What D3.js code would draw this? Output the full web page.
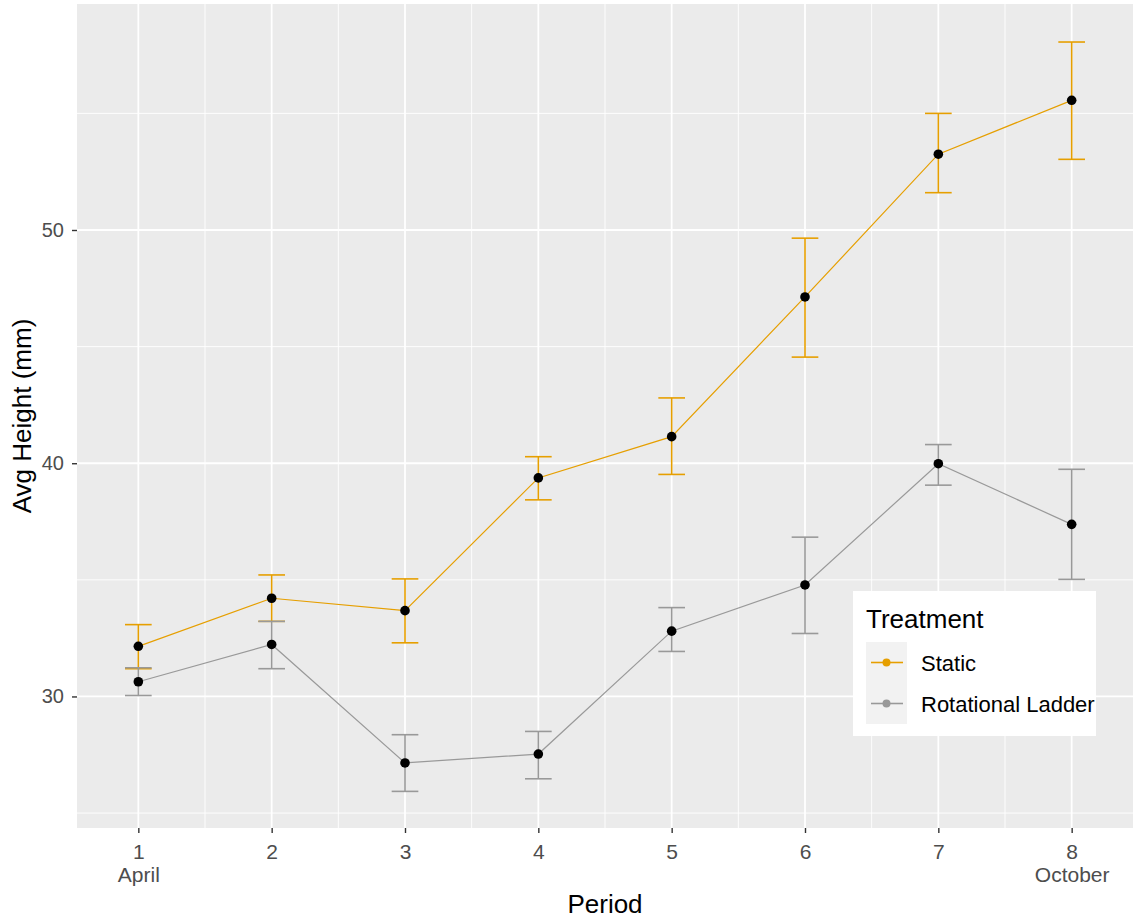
<!DOCTYPE html>
<html>
<head>
<meta charset="utf-8">
<script src="https://cdn.jsdelivr.net/npm/d3@7"></script>
<style>
  body { margin: 0; background: #fff; }
  text { font-family: "Liberation Sans", Arial, sans-serif; }
</style>
</head>
<body>
<div id="holder"></div>
<script>
const w = 1136;
const h = 920;

// DATA
const periods = [1, 2, 3, 4, 5, 6, 7, 8];
const periodLabels = ["1\nApril", "2", "3", "4", "5", "6", "7", "8\nOctober"];
const treatments = ["Static", "Rotational Ladder"];
const colors = ["#E69F00", "#999999"];

const staticMean = [32.15, 34.21, 33.68, 39.37, 41.14, 47.13, 53.25, 55.56];
const staticLow  = [31.19, 33.22, 32.30, 38.43, 39.52, 44.55, 51.60, 53.03];
const staticHigh = [33.08, 35.21, 35.04, 40.28, 42.80, 49.65, 55.00, 58.06];

const rotMean = [30.63, 32.23, 27.15, 27.53, 32.80, 34.78, 39.98, 37.38];
const rotLow  = [30.04, 31.19, 25.93, 26.47, 31.93, 32.70, 39.06, 35.02];
const rotHigh = [31.23, 33.22, 28.36, 28.50, 33.81, 36.83, 40.80, 39.74];

const yMajor = [30, 40, 50];
const yMinor = [25, 35, 45, 55];
const xMinor = [1.5, 2.5, 3.5, 4.5, 5.5, 6.5, 7.5];

const series = [
  { name: treatments[0], color: colors[0], mean: staticMean, low: staticLow, high: staticHigh },
  { name: treatments[1], color: colors[1], mean: rotMean, low: rotLow, high: rotHigh }
];

// panel box
const pLeft = 77, pRight = 1133, pTop = 4, pBottom = 828;
const smallFont = 21, titleFont = 26;

const svg = d3.select("#holder")
  .append("svg")
  .attr("width", w)
  .attr("height", h);

const xScale = d3.scaleLinear().domain([0.54, 8.46]).range([pLeft, pRight]);
const yScale = d3.scaleLinear().domain([24.36, 59.69]).range([pBottom, pTop]);

// PANEL BACKGROUND
svg.append("rect")
  .attr("x", pLeft).attr("y", pTop)
  .attr("width", pRight - pLeft).attr("height", pBottom - pTop)
  .attr("fill", "#EBEBEB");

// GRID
const grid = svg.append("g");
grid.selectAll(".yminor").data(yMinor).enter().append("line")
  .attr("x1", pLeft).attr("x2", pRight)
  .attr("y1", d => yScale(d)).attr("y2", d => yScale(d))
  .attr("stroke", "#fff").attr("stroke-width", 0.9);
grid.selectAll(".xminor").data(xMinor).enter().append("line")
  .attr("y1", pTop).attr("y2", pBottom)
  .attr("x1", d => xScale(d)).attr("x2", d => xScale(d))
  .attr("stroke", "#fff").attr("stroke-width", 0.9);
grid.selectAll(".ymajor").data(yMajor).enter().append("line")
  .attr("x1", pLeft).attr("x2", pRight)
  .attr("y1", d => yScale(d)).attr("y2", d => yScale(d))
  .attr("stroke", "#fff").attr("stroke-width", 1.8);
grid.selectAll(".xmajor").data(periods).enter().append("line")
  .attr("y1", pTop).attr("y2", pBottom)
  .attr("x1", d => xScale(d)).attr("x2", d => xScale(d))
  .attr("stroke", "#fff").attr("stroke-width", 1.8);

// AXES
const xAxis = d3.axisBottom(xScale).tickValues(periods).tickSize(5).tickFormat("");
const gx = svg.append("g")
  .attr("transform", "translate(0," + pBottom + ")")
  .call(xAxis);
gx.select(".domain").remove();
gx.selectAll(".tick line").attr("stroke", "#333").attr("stroke-width", 1.4);
gx.selectAll(".tick").each(function (d, i) {
  const lines = periodLabels[i].split("\n");
  const t = d3.select(this).append("text")
    .attr("fill", "#4D4D4D")
    .attr("font-size", smallFont)
    .attr("font-family", "Liberation Sans, Arial, sans-serif")
    .attr("text-anchor", "middle");
  lines.forEach((s, j) => {
    t.append("tspan").attr("x", 0).attr("y", 31 + j * 23).text(s);
  });
});

const yAxis = d3.axisLeft(yScale).tickValues(yMajor).tickSize(5).tickPadding(8);
const gy = svg.append("g")
  .attr("transform", "translate(" + pLeft + ",0)")
  .call(yAxis);
gy.select(".domain").remove();
gy.selectAll(".tick line").attr("stroke", "#333").attr("stroke-width", 1.4);
gy.selectAll(".tick text")
  .attr("fill", "#4D4D4D")
  .attr("font-size", smallFont - 1)
  .attr("font-family", "Liberation Sans, Arial, sans-serif");

// AXIS TITLES
svg.append("text")
  .attr("x", (pLeft + pRight) / 2).attr("y", 913)
  .attr("text-anchor", "middle")
  .attr("font-size", titleFont)
  .attr("fill", "#000")
  .text("Period");

svg.append("text")
  .attr("transform", "translate(31," + ((pTop + pBottom) / 2) + ") rotate(-90)")
  .attr("text-anchor", "middle")
  .attr("font-size", titleFont)
  .attr("fill", "#000")
  .text("Avg Height (mm)");

// LINES, ERROR BARS, POINTS
const line = d3.line()
  .x((d, i) => xScale(periods[i]))
  .y(d => yScale(d));

series.forEach(s => {
  svg.append("path")
    .attr("d", line(s.mean))
    .attr("fill", "none")
    .attr("stroke", s.color)
    .attr("stroke-width", 1.2);
});

series.forEach(s => {
  const g = svg.append("g").attr("stroke", s.color).attr("stroke-width", 1.6);
  periods.forEach((p, i) => {
    const x = xScale(p);
    const x0 = xScale(p - 0.1), x1 = xScale(p + 0.1);
    g.append("line").attr("x1", x).attr("x2", x)
      .attr("y1", yScale(s.low[i])).attr("y2", yScale(s.high[i]));
    g.append("line").attr("x1", x0).attr("x2", x1)
      .attr("y1", yScale(s.low[i])).attr("y2", yScale(s.low[i]));
    g.append("line").attr("x1", x0).attr("x2", x1)
      .attr("y1", yScale(s.high[i])).attr("y2", yScale(s.high[i]));
  });
});

series.forEach(s => {
  svg.selectAll(null)
    .data(s.mean)
    .enter()
    .append("circle")
    .attr("cx", (d, i) => xScale(periods[i]))
    .attr("cy", d => yScale(d))
    .attr("r", 4.8)
    .attr("fill", "#000");
});

// LEGEND
const lg = svg.append("g").attr("transform", "translate(853,591)");
lg.append("rect")
  .attr("width", 243).attr("height", 145)
  .attr("fill", "#fff");
lg.append("text")
  .attr("x", 13).attr("y", 37)
  .attr("font-size", titleFont)
  .attr("fill", "#000")
  .text("Treatment");
series.forEach((s, i) => {
  const ky = 51 + i * 41;
  lg.append("rect")
    .attr("x", 13).attr("y", ky)
    .attr("width", 41).attr("height", 41)
    .attr("fill", "#F2F2F2");
  lg.append("line")
    .attr("x1", 18).attr("x2", 50)
    .attr("y1", ky + 20.5).attr("y2", ky + 20.5)
    .attr("stroke", s.color).attr("stroke-width", 1.6);
  lg.append("circle")
    .attr("cx", 33.5).attr("cy", ky + 20.5)
    .attr("r", 4)
    .attr("fill", s.color);
  lg.append("text")
    .attr("x", 68).attr("y", ky + 29)
    .attr("font-size", 22)
    .attr("fill", "#000")
    .text(s.name);
});
</script>
</body>
</html>
